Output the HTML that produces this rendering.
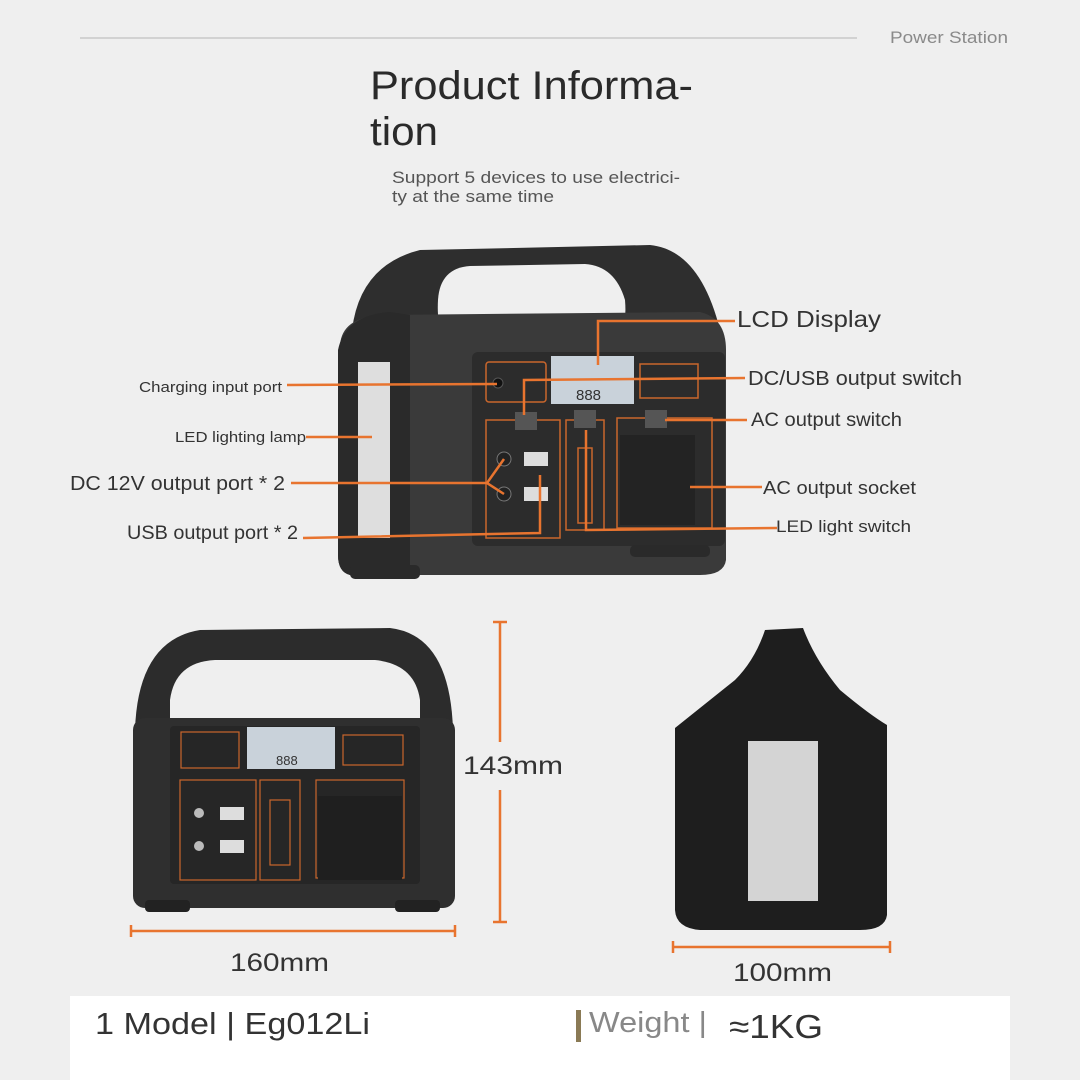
<!DOCTYPE html>
<html><head><meta charset="utf-8"><style>
html,body{margin:0;padding:0;background:#efefef;}
svg{display:block;font-family:"Liberation Sans",sans-serif;}
</style></head><body>
<svg width="1080" height="1080" viewBox="0 0 1080 1080" xmlns="http://www.w3.org/2000/svg">
<rect width="1080" height="1080" fill="#efefef"/>
<line x1="80" y1="38" x2="857" y2="38" stroke="#d2d2d2" stroke-width="2"/>
<text x="890" y="43" font-size="17" fill="#8a8a8a" textLength="118" lengthAdjust="spacingAndGlyphs">Power Station</text>
<text x="370" y="99" font-size="40" fill="#2a2a2a" textLength="323" lengthAdjust="spacingAndGlyphs">Product Informa-</text>
<text x="370" y="145" font-size="40" fill="#2a2a2a" textLength="68" lengthAdjust="spacingAndGlyphs">tion</text>
<text x="392" y="183" font-size="17" fill="#555" textLength="288" lengthAdjust="spacingAndGlyphs">Support 5 devices to use electrici-</text>
<text x="392" y="202" font-size="17" fill="#555" textLength="162" lengthAdjust="spacingAndGlyphs">ty at the same time</text>

<!-- main device -->
<g>
<path d="M352 330 Q360 265 420 250 L650 245 Q700 250 720 330 Z" fill="#2e2e2e"/>
<path d="M438 300 Q440 268 470 266 L585 264 Q615 266 625 300 Q628 336 610 340 L452 340 Q436 336 438 300 Z" fill="#efefef"/>
<path d="M340 345 Q342 318 380 315 L700 312 Q726 318 726 350 L726 560 Q724 575 700 575 L350 575 Q338 572 338 555 Z" fill="#3a3a3a"/>
<path d="M338 350 Q345 315 390 312 L410 315 L410 575 L350 575 Q338 572 338 555 Z" fill="#2a2a2a"/>
<rect x="358" y="362" width="32" height="176" fill="#dedede"/>
<rect x="472" y="352" width="253" height="194" rx="6" fill="#2c2c2c"/>
<rect x="486" y="362" width="60" height="40" rx="3" fill="none" stroke="#c9662c" stroke-width="1.5"/>
<circle cx="498" cy="383" r="5" fill="#111" stroke="#555"/>
<rect x="551" y="356" width="83" height="48" fill="#c9d2da"/>
<text x="576" y="400" font-size="15" fill="#333">888</text>
<rect x="640" y="364" width="58" height="34" fill="none" stroke="#c9662c" stroke-width="1.5"/>
<rect x="486" y="420" width="74" height="118" fill="none" stroke="#c9662c" stroke-width="1.5"/>
<rect x="566" y="420" width="38" height="110" fill="none" stroke="#c9662c" stroke-width="1.5"/>
<rect x="617" y="418" width="95" height="110" fill="none" stroke="#c9662c" stroke-width="1.5"/>
<rect x="515" y="412" width="22" height="18" fill="#555"/>
<rect x="574" y="410" width="22" height="18" fill="#555"/>
<rect x="645" y="410" width="22" height="18" fill="#555"/>
<rect x="620" y="435" width="75" height="90" fill="#232323"/>
<rect x="578" y="448" width="14" height="75" fill="none" stroke="#c9662c" stroke-width="1.5"/>
<circle cx="504" cy="459" r="7" fill="#222" stroke="#777"/>
<circle cx="504" cy="494" r="7" fill="#222" stroke="#777"/>
<rect x="524" y="452" width="24" height="14" fill="#ddd"/>
<rect x="524" y="487" width="24" height="14" fill="#ddd"/>
<rect x="350" y="565" width="70" height="14" rx="5" fill="#2a2a2a"/>
<rect x="630" y="545" width="80" height="12" rx="5" fill="#2a2a2a"/>
</g>

<!-- leaders -->
<g stroke="#e8742f" stroke-width="2.5" fill="none">
<polyline points="598,365 598,321 735,321"/>
<polyline points="524,415 524,380 745,378"/>
<line x1="287" y1="385" x2="497" y2="384"/>
<line x1="306" y1="437" x2="372" y2="437"/>
<line x1="291" y1="483" x2="487" y2="483"/>
<polyline points="504,459 487,483 504,494"/>
<polyline points="303,538 540,533 540,475"/>
<line x1="665" y1="420" x2="747" y2="420"/>
<line x1="690" y1="487" x2="762" y2="487"/>
<polyline points="586,430 586,530 777,528"/>
</g>
<g font-size="17" fill="#333">
<text x="737" y="327" font-size="23" textLength="144" lengthAdjust="spacingAndGlyphs">LCD Display</text>
<text x="748" y="385" font-size="20" textLength="214" lengthAdjust="spacingAndGlyphs">DC/USB output switch</text>
<text x="751" y="426" font-size="19" textLength="151" lengthAdjust="spacingAndGlyphs">AC output switch</text>
<text x="763" y="494" font-size="18" textLength="153" lengthAdjust="spacingAndGlyphs">AC output socket</text>
<text x="776" y="532" font-size="17" textLength="135" lengthAdjust="spacingAndGlyphs">LED light switch</text>
<text x="139" y="392" font-size="15" textLength="143" lengthAdjust="spacingAndGlyphs">Charging input port</text>
<text x="175" y="442" font-size="15" textLength="131" lengthAdjust="spacingAndGlyphs">LED lighting lamp</text>
<text x="70" y="490" font-size="20" textLength="215" lengthAdjust="spacingAndGlyphs">DC 12V output port * 2</text>
<text x="127" y="539" font-size="19" textLength="171" lengthAdjust="spacingAndGlyphs">USB output port * 2</text>
</g>

<!-- bottom left device -->
<path d="M135 730 Q138 640 200 630 L390 628 Q450 635 453 730 Z" fill="#2c2c2c"/>
<path d="M170 700 Q175 662 215 660 L375 660 Q415 664 420 700 L420 760 L170 760 Z" fill="#efefef"/>
<rect x="133" y="718" width="322" height="190" rx="12" fill="#2f2f2f"/>
<rect x="170" y="726" width="250" height="158" rx="4" fill="#262626"/>
<rect x="181" y="732" width="58" height="36" fill="none" stroke="#c9662c" stroke-width="1.2"/>
<rect x="247" y="727" width="88" height="42" fill="#c9d2da"/>
<text x="276" y="765" font-size="13" fill="#333">888</text>
<rect x="343" y="735" width="60" height="30" fill="none" stroke="#c9662c" stroke-width="1.2"/>
<rect x="180" y="780" width="76" height="100" fill="none" stroke="#c9662c" stroke-width="1.2"/>
<rect x="260" y="780" width="40" height="100" fill="none" stroke="#c9662c" stroke-width="1.2"/>
<rect x="316" y="780" width="88" height="98" fill="none" stroke="#c9662c" stroke-width="1.2"/>
<rect x="318" y="796" width="84" height="84" fill="#1f1f1f"/>
<rect x="270" y="800" width="20" height="65" fill="none" stroke="#c9662c" stroke-width="1.2"/>
<circle cx="199" cy="813" r="5" fill="#bbb"/><circle cx="199" cy="846" r="5" fill="#bbb"/>
<rect x="220" y="807" width="24" height="13" fill="#ddd"/><rect x="220" y="840" width="24" height="13" fill="#ddd"/>
<rect x="145" y="900" width="45" height="12" rx="4" fill="#222"/><rect x="395" y="900" width="45" height="12" rx="4" fill="#222"/>

<!-- side view -->
<path d="M765 630 L803 628 Q815 660 840 690 Q870 715 887 725 L887 915 Q885 930 860 930 L700 930 Q676 928 675 910 L675 728 Q710 700 735 680 Q755 660 765 630 Z" fill="#1e1e1e"/>
<rect x="748" y="741" width="70" height="160" fill="#d4d4d4"/>

<!-- dimensions -->
<g stroke="#e8742f" stroke-width="2.5">
<line x1="500" y1="622" x2="500" y2="742"/><line x1="500" y1="790" x2="500" y2="922"/>
<line x1="493" y1="622" x2="507" y2="622"/><line x1="493" y1="922" x2="507" y2="922"/>
<line x1="131" y1="931" x2="455" y2="931"/><line x1="131" y1="925" x2="131" y2="937"/><line x1="455" y1="925" x2="455" y2="937"/>
<line x1="673" y1="947" x2="890" y2="947"/><line x1="673" y1="941" x2="673" y2="953"/><line x1="890" y1="941" x2="890" y2="953"/>
</g>
<text x="463" y="774" font-size="25" fill="#333" textLength="100" lengthAdjust="spacingAndGlyphs">143mm</text>
<text x="230" y="971" font-size="25" fill="#333" textLength="99" lengthAdjust="spacingAndGlyphs">160mm</text>
<text x="733" y="981" font-size="25" fill="#333" textLength="99" lengthAdjust="spacingAndGlyphs">100mm</text>

<rect x="70" y="996" width="940" height="84" fill="#fff"/>
<text x="95" y="1034" font-size="31" fill="#333" textLength="275" lengthAdjust="spacingAndGlyphs">1 Model | Eg012Li</text>
<rect x="576" y="1010" width="5" height="32" fill="#8a7a55"/>
<text x="589" y="1032" font-size="29" fill="#888" textLength="118" lengthAdjust="spacingAndGlyphs">Weight |</text>
<text x="729" y="1038" font-size="33" fill="#333" textLength="94" lengthAdjust="spacingAndGlyphs">≈1KG</text>
</svg>
</body></html>
